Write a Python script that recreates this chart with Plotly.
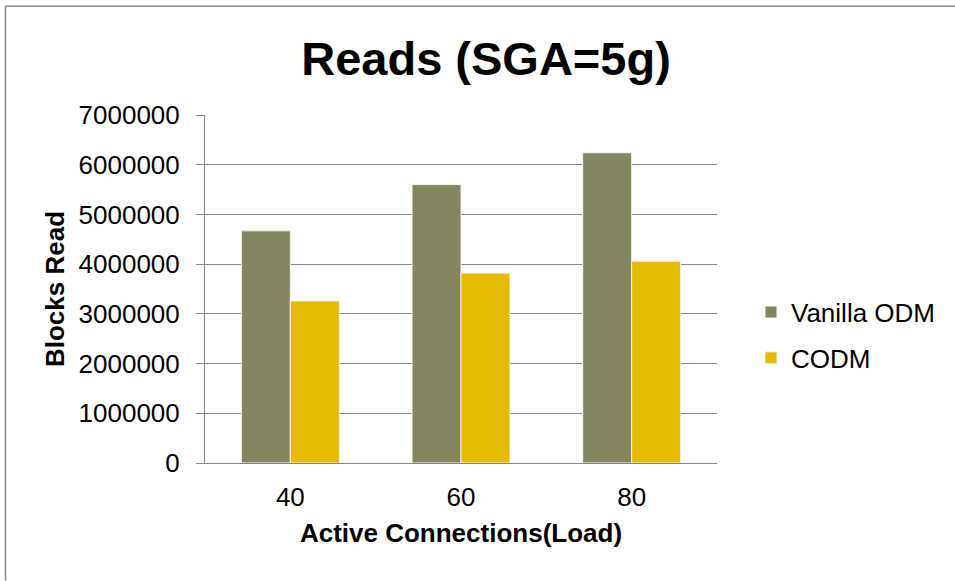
import plotly.graph_objects as go

# Data
loads = ["40", "60", "80"]
vanilla_odm = [4670000, 5600000, 6240000]
codm = [3260000, 3820000, 4060000]

W, H = 955, 581
L, R, T, B = 205, 717, 115.25, 463.5

FONT = "Arial, Liberation Sans, sans-serif"
GRID = "#868686"

fig = go.Figure()
fig.add_trace(go.Bar(
    x=loads, y=vanilla_odm, name="Vanilla ODM",
    marker=dict(color="#858660", line=dict(color="#f4f4ec", width=1)),
    legendgroup="a",
))
fig.add_trace(go.Bar(
    x=loads, y=codm, name="CODM",
    marker=dict(color="#e6ba00", line=dict(color="#f4f4ec", width=1)),
    legendgroup="b",
))

pw = R - L
ph = B - T


def px_to_paper_x(px):
    return (px - L) / pw


def px_to_paper_y(py):
    return (B - py) / ph


# Chart-area frame: only its left and top edges fall inside the page
frame = dict(color="#888888", width=1.5)
frame_lines = [
    dict(type="line", xref="paper", yref="paper",
         x0=px_to_paper_x(5.5), x1=px_to_paper_x(5.5),
         y0=px_to_paper_y(H), y1=px_to_paper_y(6.5), line=frame, layer="below"),
    dict(type="line", xref="paper", yref="paper",
         x0=px_to_paper_x(5.5), x1=px_to_paper_x(W),
         y0=px_to_paper_y(6.5), y1=px_to_paper_y(6.5), line=frame, layer="below"),
]

fig.update_layout(
    width=W, height=H,
    margin=dict(l=L, r=W - R, t=T, b=H - B, pad=0),
    paper_bgcolor="white", plot_bgcolor="white",
    font=dict(family=FONT, size=26, color="black"),
    barmode="group", bargap=0.426, bargroupgap=0,
    title=dict(
        text="<b>Reads (SGA=5g)</b>",
        font=dict(family=FONT, size=47, color="black"),
        x=486 / W, xanchor="center",
        y=1 - 59 / H, yanchor="middle",
    ),
    xaxis=dict(
        showgrid=False, showline=True, linecolor=GRID, linewidth=1,
        ticks="", ticklabelstandoff=11,
        tickfont=dict(size=26),
        title=dict(text="<b>Active Connections(Load)</b>", font=dict(size=26), standoff=12),
    ),
    yaxis=dict(
        range=[0, 7000000], dtick=1000000, tickformat="d",
        showgrid=True, gridcolor=GRID, gridwidth=1,
        showline=True, linecolor=GRID, linewidth=1,
        ticks="outside", ticklen=8, tickcolor=GRID, tickwidth=1,
        ticklabelstandoff=11,
        tickfont=dict(size=26),
        zeroline=False,
        title=dict(text="<b>Blocks Read</b>", font=dict(size=26), standoff=6),
    ),
    legend=dict(
        x=px_to_paper_x(751), xanchor="left",
        y=px_to_paper_y(289), yanchor="top",
        font=dict(size=26), tracegroupgap=9,
        traceorder="grouped",
        bgcolor="rgba(0,0,0,0)",
    ),
    shapes=frame_lines,
)

fig.write_html("out.html")
